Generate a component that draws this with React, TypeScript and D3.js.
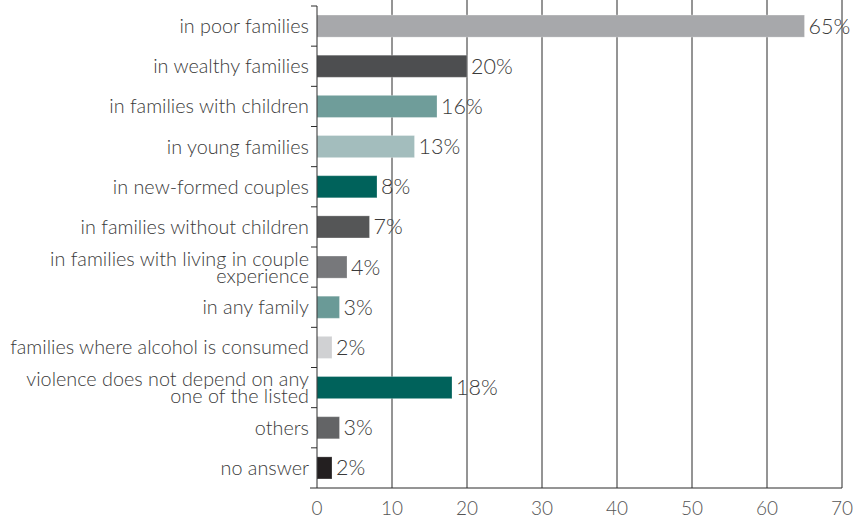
import React from "react";
import * as d3 from "d3";

const categories: string[][] = [
  ["in poor families"],
  ["in wealthy families"],
  ["in families with children"],
  ["in young families"],
  ["in new-formed couples"],
  ["in families without children"],
  ["in families with living in couple", "experience"],
  ["in any family"],
  ["families where alcohol is consumed"],
  ["violence does not depend on any", "one of the listed"],
  ["others"],
  ["no answer"],
];
const values: number[] = [65, 20, 16, 13, 8, 7, 4, 3, 2, 18, 3, 2];
const colors: string[] = [
  "#a7a8ab", "#4d4e50", "#6f9d9a", "#a3bdbd", "#00625b", "#555657",
  "#77787b", "#6a9a97", "#d0d1d3", "#00625b", "#636466", "#231f20",
];
const xTicks: number[] = [0, 10, 20, 30, 40, 50, 60, 70];

const W = 853;
const H = 519;
const left = 317;
const right = 842;
const top = 6;
const bottom = 488;

export default function App() {
  const x = d3.scaleLinear().domain([0, 70]).range([left, right]);
  const idx = categories.map((_, i) => String(i));
  const y = d3.scaleBand().domain(idx).range([top, bottom]).paddingInner(0.45).paddingOuter(0.225);
  const band = d3.scaleBand().domain(idx).range([top, bottom]);
  const font = "Lato, 'Open Sans', sans-serif";
  return (
    <svg width={W} height={H} style={{ position: "absolute", left: 0, top: 0 }}>
      <rect width={W} height={H} fill="#fff" />
      {xTicks.slice(1).map((t) => (
        <line key={t} x1={x(t)} x2={x(t)} y1={0} y2={bottom} stroke="#2b2b2b" strokeWidth={1} />
      ))}
      {values.map((v, i) => (
        <rect key={i} x={x(0)} y={y(String(i))!} width={x(v) - x(0)} height={y.bandwidth()}
          fill={colors[i]} stroke="#ffffff" strokeOpacity={0.25} strokeWidth={1} />
      ))}
      <line x1={x(0)} x2={x(0)} y1={top} y2={bottom} stroke="#2b2b2b" strokeWidth={1} />
      <line x1={310} x2={right} y1={bottom} y2={bottom} stroke="#2b2b2b" strokeWidth={1} />
      {idx.map((k) => (
        <line key={k} x1={311} x2={x(0)} y1={band(k)!} y2={band(k)!} stroke="#2b2b2b" strokeWidth={1} />
      ))}
      {categories.map((lines, i) => {
        const cy = y(String(i))! + y.bandwidth() / 2;
        const lh = 17;
        const start = cy - ((lines.length - 1) * lh) / 2;
        return (
          <text key={i} textAnchor="end" fontFamily={font} fontWeight={300} fontSize={19.8} fill="#3a3a3a">
            {lines.map((l, j) => (
              <tspan key={j} x={309} y={start + j * lh} dy="0.35em">{l}</tspan>
            ))}
          </text>
        );
      })}
      {values.map((v, i) => (
        <text key={i} x={x(v) + 4} y={y(String(i))! + y.bandwidth() / 2} dy="0.35em"
          fontFamily={font} fontWeight={300} fontSize={21.5} fill="#3a3a3a">
          {v}%
        </text>
      ))}
      {xTicks.map((t) => (
        <text key={t} x={x(t)} y={508} dy="0.35em" textAnchor="middle" fontFamily={font}
          fontWeight={300} fontSize={19} fill="#555">
          {t}
        </text>
      ))}
    </svg>
  );
}
